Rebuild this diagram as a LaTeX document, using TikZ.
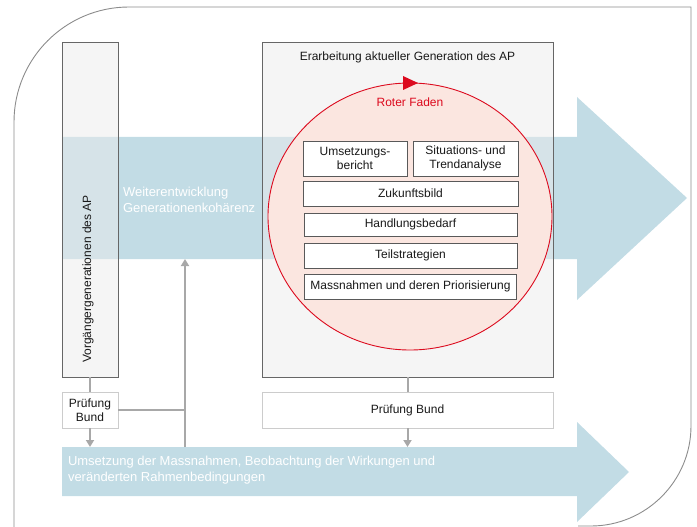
\documentclass[tikz,border=0pt]{standalone}
\usepackage{fontspec}
\setmainfont{Liberation Sans}
\usetikzlibrary{positioning,shapes.geometric,arrows.meta}
\definecolor{bandblue}{HTML}{C2DCE5}
\definecolor{framegray}{HTML}{8C8C8C}
\definecolor{conngray}{HTML}{A8A8A8}
\definecolor{boxfill}{HTML}{EBEBEB}
\definecolor{fadenred}{HTML}{DC0A1E}
\definecolor{fadenfill}{HTML}{FBE6E0}

\begin{document}
\begin{tikzpicture}[x=1pt,y=-1pt,>={Triangle[width=8pt,length=7pt]},
      inner sep=0pt,outer sep=0pt,text=black!90,
      font=\fontsize{12}{13.5}\selectfont,
      big box/.style={draw=black!60,line width=0.8pt,fill=boxfill,fill opacity=0.5,anchor=north west},
      check box/.style={draw=black!20,line width=0.8pt,fill=white,anchor=north west,align=center},
      step box/.style={draw=black!65,line width=0.8pt,fill=white,align=center},
      band/.style={fill=bandblue},
      band text/.style={text=white,font=\fontsize{13}{16}\selectfont,anchor=west,align=left},
      conn/.style={draw=conngray,line width=2pt}]

      \useasboundingbox (0,0) rectangle (697,527);

      % Rahmen
      \draw[framegray,line width=0.9pt] (14,527) -- (14,122) .. controls (14,58.5) and (65.5,7) .. (129,7)
        -- (691,7) -- (691,426) .. controls (691,481) and (646,526) .. (591,526) -- (578,526);

      % Pfeile
      \fill[band] (62,137) -- (577,137) -- (577,97) -- (687,198) -- (577,300) -- (577,259) -- (62,259) -- cycle;
      \fill[band] (62,447) -- (577,447) -- (577,422) -- (629,472) -- (577,522) -- (577,496) -- (62,496) -- cycle;
      \coordinate (weiterband) at (62,259);
      \coordinate (umsetzband) at (62,447);
      \coordinate (riser) at (185,447);

      \node[big box,minimum width=56pt,minimum height=335pt] (vorg) at (62,42) {};
      \node[rotate=90] (vorgtext) at (88,279) {Vorgängergenerationen des AP};
      \node[big box,minimum width=291pt,minimum height=335pt] (main) at (262,42) {};
      \node (titel) [below=10pt of main.north] {Erarbeitung aktueller Generation des AP};

      \node[ellipse,draw=fadenred,line width=0.9pt,fill=fadenfill,minimum width=284pt,minimum height=267pt] (faden) at (410,216.5) {};
      \fill[fadenred] (403,76) -- (418,83) -- (403,90) -- cycle;
      \node[text=fadenred] (roter) [below=15pt of faden.north] {Roter Faden};

      \node[step box,anchor=north west,minimum width=104pt,minimum height=35pt] (umsetz) at (303,141) {Umsetzungs-\\bericht};
      \node[step box,minimum width=105pt,minimum height=35pt] (situ) [right=6pt of umsetz] {Situations- und\\Trendanalyse};
      \node[step box,minimum width=215pt,minimum height=25pt] (zukunft) [below=5pt of umsetz.south west,anchor=north west] {Zukunftsbild};
      \node[step box,minimum width=213pt,minimum height=23pt] (handl) [below=7pt of zukunft] {Handlungsbedarf};
      \node[step box,minimum width=213pt,minimum height=25pt] (teil) [below=7pt of handl] {Teilstrategien};
      \node[step box,minimum width=212pt,minimum height=25pt] (mass) [below=6pt of teil] {Massnahmen und deren Priorisierung};

      \node[check box,minimum width=56pt,minimum height=36pt] (pruefL) at (62,392) {Prüfung\\Bund};
      \node[check box,minimum width=291pt,minimum height=36pt] (pruefR) at (262,392) {Prüfung Bund};

      \draw[conn] (vorg) -- (pruefL);
      \draw[conn,->] (pruefL) -- (pruefL.south |- umsetzband);
      \draw[conn] (pruefL.east) -- (pruefL.east -| riser);
      \draw[conn,->] (riser) -- (riser |- weiterband);
      \draw[conn] (main) -- (pruefR);
      \draw[conn,->] (pruefR) -- (pruefR.south |- umsetzband);

      \node[band text] (weitertext) at (123,200) {Weiterentwicklung\\Generationenkohärenz};
      \node[band text] (umsetztext) at (68,470) {Umsetzung der Massnahmen, Beobachtung der Wirkungen und\\veränderten Rahmenbedingungen};
\end{tikzpicture}
\end{document}
